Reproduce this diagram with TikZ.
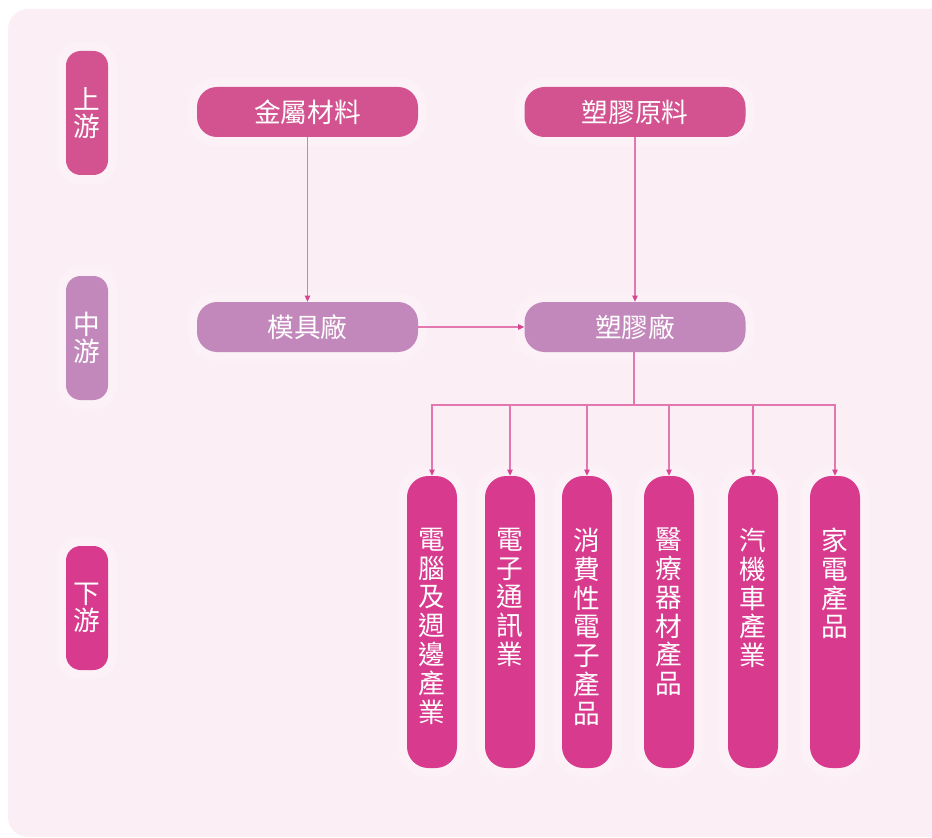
\documentclass[tikz,border=0pt]{standalone}
\usepackage{fontspec}
\setmainfont{Noto Sans CJK TC}
\usepackage{xcolor}
\usetikzlibrary{arrows.meta, positioning}

\definecolor{bgpink}{RGB}{251,238,245}
\definecolor{uprose}{RGB}{210,83,143}
\definecolor{midmauve}{RGB}{195,136,187}
\definecolor{lowmag}{RGB}{216,59,142}
\definecolor{linkpink}{RGB}{226,120,175}
\definecolor{tippink}{RGB}{214,68,146}

\begin{document}
\begin{tikzpicture}[x=0.75pt, y=-0.75pt,
    glow/.style={preaction={draw=white, draw opacity=0.2, line width=14pt}},
    lvl/.style={glow, rounded corners=11pt, minimum width=31.5pt, minimum height=93pt, inner sep=0pt,
      text=white, align=center, font=\fontsize{20}{20}\selectfont},
    pill/.style={glow, rounded corners=15pt, minimum width=165.75pt, minimum height=37.5pt, inner sep=0pt,
      text=white, font=\fontsize{20}{24}\selectfont},
    bar/.style={glow, fill=lowmag, rounded corners=16pt, minimum width=37.5pt, minimum height=219pt, inner sep=0pt},
    bartext/.style={text=white, align=center, inner sep=0pt, font=\fontsize{20}{21.6}\selectfont},
    link/.style={draw=linkpink, line width=0.8pt, -{Triangle[length=4.5pt, width=4pt, color=tippink]}}]
  \clip (0,0) rectangle (932,838);
  \fill[bgpink, rounded corners=15pt] (8,9) rectangle (960,837);

  % levels
  \node[lvl, fill=uprose] (lvlup) at (87,113) {上\\游};
  \node[lvl, fill=midmauve] (lvlmid) at (87,338) {中\\游};
  \node[lvl, fill=lowmag] (lvldown) at (87,608) {下\\游};

  % upstream / midstream
  \node[pill, fill=uprose] (metal) at (307.5,112) {金屬材料};
  \node[pill, fill=uprose] (resin) at (635,112) {塑膠原料};
  \node[pill, fill=midmauve] (mold) at (307.5,327) {模具廠};
  \node[pill, fill=midmauve] (plant) at (635,327) {塑膠廠};

  \draw[link] (metal) -- (mold);
  \draw[link] (resin) -- (plant);
  \draw[link] (mold) -- (plant);

  % downstream
  \coordinate (hub) at (634,405);
  \draw[draw=linkpink, line width=0.8pt] (plant.south -| hub) -- (hub);
  \foreach \x/\t [count=\i] in {432/{電\\腦\\及\\週\\邊\\產\\業}, 510/{電\\子\\通\\訊\\業},
      587/{消\\費\\性\\電\\子\\產\\品}, 669/{醫\\療\\器\\材\\產\\品},
      753/{汽\\機\\車\\產\\業}, 835/{家\\電\\產\\品}} {
    \node[bar] (b\i) at (\x,622) {};
    \node[bartext, anchor=north] (t\i) at ([yshift=-39pt]b\i.north) {\t};
    \draw[link] (hub) -| (b\i.north);
  }
\end{tikzpicture}
\end{document}
